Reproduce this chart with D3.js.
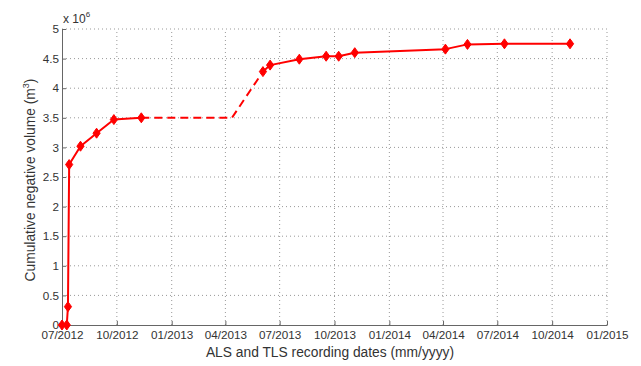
<!DOCTYPE html>
<html>
<head>
<meta charset="utf-8">
<script src="https://cdn.jsdelivr.net/npm/d3@7"></script>
<style>
  html, body { margin: 0; padding: 0; background: #fff; }
  svg { display: block; font-family: "Liberation Sans", Arial, sans-serif; }
</style>
</head>
<body>
<svg id="chart" width="641" height="366"></svg>
<script>
// Survey dates (ALS / TLS campaigns) and cumulative negative volume (x 10^6 m^3)
const surveyDates1 = ["2012-07-01", "2012-07-09", "2012-07-11", "2012-07-13", "2012-08-01", "2012-08-28", "2012-09-26", "2012-11-11"];
const volumes1     = [0, 0, 0.31, 2.71, 3.02, 3.24, 3.47, 3.50];

// Gap without observations
const gapDates   = ["2012-11-11", "2013-04-12", "2013-06-03"];
const gapVolumes = [3.50, 3.50, 4.28];

const surveyDates2 = ["2013-06-03", "2013-06-15", "2013-08-03", "2013-09-17", "2013-10-08", "2013-11-04", "2014-04-05", "2014-05-12", "2014-07-13", "2014-10-31"];
const volumes2     = [4.28, 4.39, 4.49, 4.54, 4.54, 4.60, 4.66, 4.74, 4.75, 4.75];

const xTickDates  = ["2012-07-01", "2012-10-01", "2013-01-01", "2013-04-01", "2013-07-01", "2013-10-01", "2014-01-01", "2014-04-01", "2014-07-01", "2014-10-01", "2015-01-01"];
const yTickValues = [0, 0.5, 1, 1.5, 2, 2.5, 3, 3.5, 4, 4.5, 5];

const parse = d3.utcParse("%Y-%m-%d");
const fmt = d3.utcFormat("%m/%Y");

const svg = d3.select("#chart");
const m = { left: 62, right: 34, top: 29, bottom: 41 };
const W = 641, H = 366;

const x = d3.scaleUtc()
  .domain([parse("2012-07-01"), parse("2015-01-01")])
  .range([m.left, W - m.right]);
const y = d3.scaleLinear().domain([0, 5]).range([H - m.bottom, m.top]);

const textColor = "#333";
const gridColor = "#999";

// grid
const grid = svg.append("g");
grid.selectAll(".gx").data(xTickDates.slice(1)).join("line")
  .attr("x1", d => x(parse(d))).attr("x2", d => x(parse(d)))
  .attr("y1", y(0)).attr("y2", y(5))
  .attr("stroke", gridColor).attr("stroke-width", 1)
  .attr("stroke-dasharray", "1,3");
grid.selectAll(".gy").data(yTickValues.slice(1)).join("line")
  .attr("x1", x.range()[0]).attr("x2", x.range()[1])
  .attr("y1", d => y(d)).attr("y2", d => y(d))
  .attr("stroke", gridColor).attr("stroke-width", 1)
  .attr("stroke-dasharray", "1,3");

// axes
const xAxis = d3.axisBottom(x)
  .tickValues(xTickDates.map(parse))
  .tickFormat(fmt)
  .tickSizeInner(-4).tickSizeOuter(0).tickPadding(6);
const gx = svg.append("g").attr("transform", `translate(0,${y(0)})`).call(xAxis);

const yAxis = d3.axisLeft(y)
  .tickValues(yTickValues)
  .tickFormat(d3.format("~g"))
  .tickSizeInner(-4).tickSizeOuter(0).tickPadding(3);
const gy = svg.append("g").attr("transform", `translate(${m.left},0)`).call(yAxis);

[gx, gy].forEach(g => {
  g.select(".domain").attr("stroke", "#666").attr("stroke-width", 1);
  g.selectAll(".tick line").attr("stroke", "#666");
  g.selectAll(".tick text").attr("fill", textColor).style("font-size", "11.7px");
});

// exponent label
const ex = svg.append("text").attr("x", m.left + 1).attr("y", 23)
  .attr("fill", textColor).style("font-size", "12px");
ex.append("tspan").text("x 10");
ex.append("tspan").attr("dy", "-6").style("font-size", "8px").text("6");

// axis titles
svg.append("text")
  .attr("x", 330).attr("y", 357)
  .attr("text-anchor", "middle").attr("fill", textColor)
  .style("font-size", "13.8px")
  .text("ALS and TLS recording dates (mm/yyyy)");

const yl = svg.append("text")
  .attr("transform", `translate(35,180) rotate(-90)`)
  .attr("text-anchor", "middle").attr("fill", textColor)
  .style("font-size", "13.8px");
yl.append("tspan").text("Cumulative negative volume (m");
yl.append("tspan").attr("dy", "-6").style("font-size", "9px").text("3");
yl.append("tspan").attr("dy", "6").text(")");

// series
const red = "#f00";
const line = d3.line().x(d => x(d[0])).y(d => y(d[1]));
const seg1 = surveyDates1.map((d, i) => [parse(d), volumes1[i]]);
const seg2 = surveyDates2.map((d, i) => [parse(d), volumes2[i]]);
const gap = gapDates.map((d, i) => [parse(d), gapVolumes[i]]);

svg.append("path").datum(gap).attr("d", line)
  .attr("fill", "none").attr("stroke", red).attr("stroke-width", 2)
  .attr("stroke-dasharray", "8,5");
[seg1, seg2].forEach(s => {
  svg.append("path").datum(s).attr("d", line)
    .attr("fill", "none").attr("stroke", red).attr("stroke-width", 2)
    .attr("stroke-linejoin", "round");
});

const diamond = "M0,-5L3.6,0L0,5L-3.6,0Z";
svg.append("g").selectAll("path").data(seg1.concat(seg2)).join("path")
  .attr("transform", d => `translate(${x(d[0])},${y(d[1])})`)
  .attr("d", diamond)
  .attr("fill", red).attr("stroke", red).attr("stroke-width", 1);
</script>
</body>
</html>
